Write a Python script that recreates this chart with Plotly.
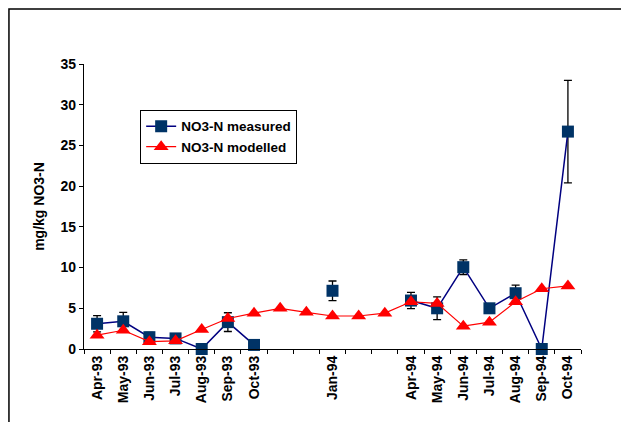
import plotly.graph_objects as go

# Sampling months (category axis)
months = ["Apr-93", "May-93", "Jun-93", "Jul-93", "Aug-93", "Sep-93", "Oct-93",
          "Nov-93", "Dec-93", "Jan-94", "Feb-94", "Mar-94", "Apr-94", "May-94",
          "Jun-94", "Jul-94", "Aug-94", "Sep-94", "Oct-94"]
# Labels printed under the axis (blank months carry no label)
month_labels = ["Apr-93", "May-93", "Jun-93", "Jul-93", "Aug-93", "Sep-93", "Oct-93",
                "", "", "Jan-94", "", "", "Apr-94", "May-94",
                "Jun-94", "Jul-94", "Aug-94", "Sep-94", "Oct-94"]

# NO3-N measured (mg/kg) and its standard error; None = not sampled
measured = [3.1, 3.4, 1.45, 1.3, 0.0, 3.3, 0.5,
            None, None, 7.15, None, None, 5.95, 5.0,
            10.05, 5.0, 6.85, 0.0, 26.7]
measured_err = [1.0, 1.1, 0.6, 0.3, 0.0, 1.15, 0.0,
                None, None, 1.2, None, None, 1.0, 1.4,
                0.9, 0.3, 1.0, 0.0, 6.3]

# NO3-N modelled (mg/kg)
modelled = [1.7, 2.3, 0.9, 1.0, 2.4, 3.75, 4.4,
            5.0, 4.5, 4.05, 4.05, 4.4, 5.8, 5.6,
            2.8, 3.3, 5.8, 7.4, 7.75]

font_family = "Arial, Liberation Sans, sans-serif"
tick_font = dict(family=font_family, size=14, color="black", weight="bold")

fig = go.Figure()

fig.add_trace(go.Scatter(
    x=months, y=measured, name="NO3-N measured",
    mode="lines+markers", connectgaps=False, cliponaxis=False,
    line=dict(color="#000080", width=1.5),
    marker=dict(symbol="square", size=12, color="#003366",
                line=dict(width=0)),
    error_y=dict(type="data", array=measured_err, visible=True,
                 color="black", thickness=1.3, width=4),
))

fig.add_trace(go.Scatter(
    x=months, y=modelled, name="NO3-N modelled",
    mode="lines+markers", cliponaxis=False,
    line=dict(color="#FF0000", width=1.2),
    marker=dict(symbol="triangle-up", size=13, color="#FF0000",
                line=dict(width=0)),
))

# Outer chart frame (top and left edges visible)
fig.add_shape(type="rect", xref="paper", yref="paper",
              x0=-0.151, x1=1.2, y0=-0.5, y1=1.193,
              line=dict(color="black", width=1.5), fillcolor="rgba(0,0,0,0)",
              layer="below")

fig.update_layout(
    width=621, height=422,
    margin=dict(l=84, r=40, t=64, b=73),
    paper_bgcolor="white", plot_bgcolor="white",
    font=dict(family=font_family, size=13, color="black"),
    showlegend=True,
    legend=dict(
        x=0.113, y=0.839, xanchor="left", yanchor="top",
        bgcolor="white", bordercolor="black", borderwidth=1,
        font=dict(family=font_family, size=13.5, color="black", weight="bold"),
        tracegroupgap=0,
    ),
    xaxis=dict(
        type="category", categoryorder="array", categoryarray=months,
        range=[-0.5, 18.5],
        tickmode="array", tickvals=months, ticktext=month_labels,
        tickson="boundaries", ticks="outside", ticklen=4, tickcolor="black",
        tickangle=-90, tickfont=tick_font,
        showline=True, linecolor="black", linewidth=1.2,
        showgrid=False, zeroline=False,
    ),
    yaxis=dict(
        range=[0, 35], dtick=5, tick0=0,
        ticks="outside", ticklen=4, tickcolor="black",
        tickfont=tick_font,
        showline=True, linecolor="black", linewidth=1.2,
        showgrid=False, zeroline=False,
        title=dict(text="mg/kg NO3-N", standoff=12,
                   font=dict(family=font_family, size=14, color="black", weight="bold")),
    ),
)

fig.write_html("out.html")
